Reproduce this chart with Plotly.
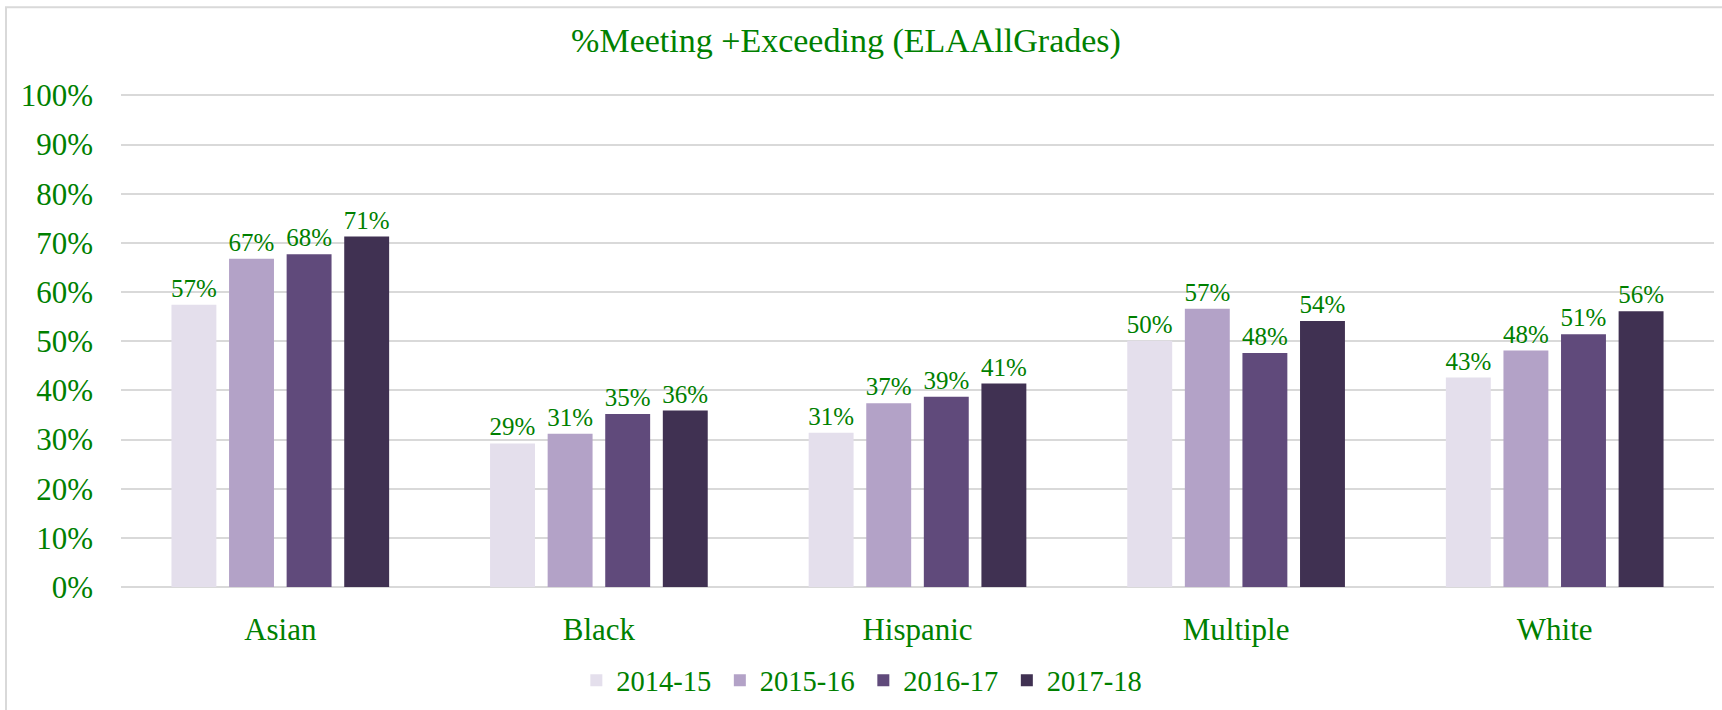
import plotly.graph_objects as go

categories = ["Asian", "Black", "Hispanic", "Multiple", "White"]
years = ["2014-15", "2015-16", "2016-17", "2017-18"]
v_2014_15 = [0.574, 0.292, 0.314, 0.501, 0.426]
v_2015_16 = [0.668, 0.312, 0.374, 0.566, 0.481]
v_2016_17 = [0.677, 0.352, 0.387, 0.476, 0.514]
v_2017_18 = [0.713, 0.359, 0.414, 0.541, 0.561]
series = [v_2014_15, v_2015_16, v_2016_17, v_2017_18]
colors = ["#E4DFEC", "#B3A2C7", "#604A7B", "#403152"]
y_ticks = [0, 0.1, 0.2, 0.3, 0.4, 0.5, 0.6, 0.7, 0.8, 0.9, 1.0]

GREEN = "#008000"
FONT = "Liberation Serif, Times New Roman, serif"

fig = go.Figure()
for name, vals, col in zip(years, series, colors):
    fig.add_trace(go.Bar(
        name=name, x=categories, y=vals,
        marker=dict(color=col, line=dict(width=0)),
        texttemplate="%{y:.0%}", textposition="outside",
        textfont=dict(family=FONT, size=25, color=GREEN),
        constraintext="none", cliponaxis=False,
    ))

fig.update_layout(
    template="none",
    width=1722, height=710,
    paper_bgcolor="white", plot_bgcolor="white",
    margin=dict(l=121, r=8, t=94, b=123, autoexpand=False),
    barmode="group", bargap=0.277, bargroupgap=0.22,
    font=dict(family=FONT, color=GREEN),
    title=dict(text="%Meeting +Exceeding (ELAAllGrades)", x=846 / 1722, xref="container",
               xanchor="center", y=1 - 40 / 710, yanchor="middle",
               font=dict(family=FONT, size=34, color=GREEN)),
    xaxis=dict(showgrid=False, showline=False, ticks="", zeroline=False, automargin=False,
               tickfont=dict(family=FONT, size=31, color=GREEN), ticklabelstandoff=21),
    yaxis=dict(range=[0, 1.003], tickvals=y_ticks, tickformat=".0%", automargin=False,
               showgrid=True, gridcolor="#D9D9D9", gridwidth=2,
               zeroline=True, zerolinecolor="#D9D9D9", zerolinewidth=2,
               showline=False, ticks="", ticklabelstandoff=27,
               tickfont=dict(family=FONT, size=31, color=GREEN)),
    legend=dict(orientation="h", x=0.466, xanchor="center", y=-0.19, yanchor="middle",
                font=dict(family=FONT, size=28.5, color=GREEN),
                itemwidth=30, traceorder="normal", entrywidth=98.5, bgcolor="rgba(0,0,0,0)"),
    showlegend=True,
)

fig.add_shape(type="rect", xref="paper", yref="paper",
              x0=-0.0722, x1=1.02, y0=-0.3, y1=1.176,
              line=dict(color="#D9D9D9", width=2), fillcolor="rgba(0,0,0,0)", layer="below")

fig.write_html("out.html", config={"displayModeBar": False},
               post_script="document.body.style.margin='0';")
